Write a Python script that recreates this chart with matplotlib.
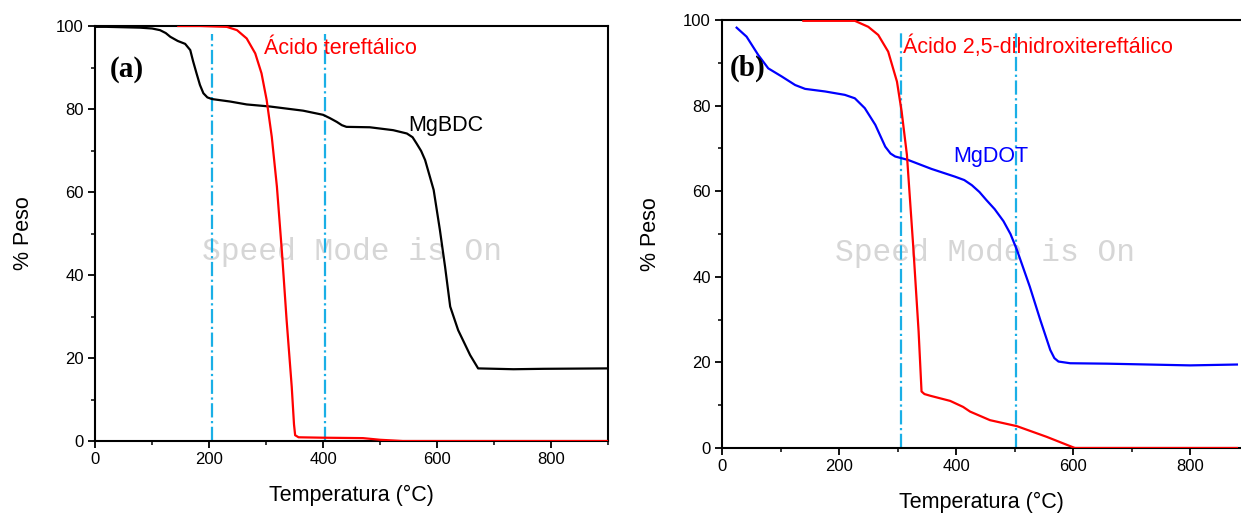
import matplotlib
matplotlib.use("Agg")
import matplotlib.pyplot as plt
from matplotlib.ticker import MultipleLocator

plt.rcParams['font.family'] = ['Liberation Sans', 'DejaVu Sans']

# (a) MgBDC
bdc_T = [0, 20, 79, 100, 114, 124, 132, 145, 158, 167, 172, 178, 184, 190, 197, 205, 237, 266,
         307, 365, 400, 412, 424, 433, 441, 482, 523, 547, 557, 564, 572, 579, 594, 605, 614,
         623, 637, 658, 672, 734, 787, 900]
bdc_w = [99.8, 99.8, 99.6, 99.4, 99.0, 98.3, 97.4, 96.4, 95.7, 94.2, 91.5, 88.6, 85.8, 83.8,
         82.8, 82.4, 81.8, 81.1, 80.6, 79.6, 78.6, 77.8, 76.9, 76.1, 75.7, 75.6, 74.9, 74.1,
         73.2, 71.7, 69.9, 67.7, 60.5, 50.8, 42.0, 32.4, 26.7, 20.7, 17.5, 17.3, 17.4, 17.5]

# (a) Acido tereftalico
tpa_T = [146, 184, 231, 249, 266, 281, 292, 301, 310, 319, 328, 336, 345, 349, 351, 357, 400,
         470, 500, 540, 900]
tpa_w = [100, 100, 99.8, 99.0, 97.0, 93.4, 88.6, 82.2, 73.3, 61.3, 45.2, 29.2, 13.1, 4.0,
         1.4, 0.9, 0.8, 0.7, 0.3, 0.0, 0.0]

# (b) MgDOT
dot_T = [25, 42, 62, 79, 102, 125, 142, 176, 210, 227, 244, 262, 279, 288, 296, 318, 358, 398,
         414, 427, 440, 452, 466, 481, 493, 504, 526, 544, 561, 568, 575, 595, 658, 800, 880]
dot_w = [98.2, 96.1, 91.8, 88.7, 86.8, 84.8, 83.9, 83.3, 82.5, 81.7, 79.4, 75.5, 70.4, 68.8,
         68.1, 67.3, 65.2, 63.4, 62.6, 61.4, 59.8, 57.9, 55.8, 53.0, 50.0, 46.3, 37.7, 29.9,
         22.9, 21.0, 20.2, 19.8, 19.7, 19.3, 19.5]

# (b) Acido 2,5-dihidroxitereftalico
dht_T = [139, 227, 250, 267, 284, 299, 307, 316, 327, 336, 341, 346, 356, 390, 412, 424, 458,
         504, 555, 603, 880]
dht_w = [99.8, 99.8, 98.4, 96.5, 92.6, 85.6, 78.6, 68.5, 46.7, 27.2, 13.2, 12.6, 12.2, 11.0,
         9.6, 8.5, 6.5, 5.1, 2.6, 0.0, 0.0]

vlines_a = [205, 403]
vlines_b = [306, 503]

cyan = '#1AAFE6'

fig = plt.figure(figsize=(12.41, 5.16), dpi=100)
ax1 = fig.add_axes([0.0766, 0.1453, 0.4134, 0.8043])
ax2 = fig.add_axes([0.5818, 0.1318, 0.4182, 0.8295])


def style(ax, xmax):
    ax.set_xlim(0, xmax)
    ax.set_ylim(0, 100)
    ax.xaxis.set_major_locator(MultipleLocator(200))
    ax.xaxis.set_minor_locator(MultipleLocator(100))
    ax.yaxis.set_major_locator(MultipleLocator(20))
    ax.yaxis.set_minor_locator(MultipleLocator(10))
    ax.tick_params(which='major', direction='out', length=5, width=1.3, labelsize=12, pad=3)
    ax.tick_params(which='minor', direction='out', length=3, width=1.1)
    for s in ax.spines.values():
        s.set_linewidth(1.5)
    ax.set_xlabel('Temperatura (°C)', fontsize=15.5, labelpad=13)
    ax.set_ylabel('% Peso', fontsize=15.5, labelpad=16)
    ax.text(450, 45.5, 'Speed Mode is On', family='Liberation Mono', fontsize=22.5,
            color='#d6d6d6', ha='center', va='center', zorder=0)


style(ax1, 900)
ax1.vlines(vlines_a, 0, 98, colors=cyan, linestyles='-.', linewidth=1.6, zorder=1)
ax1.plot(bdc_T, bdc_w, color='black', lw=1.6, zorder=3, solid_joinstyle='round')
ax1.plot(tpa_T, tpa_w, color='#ff0000', lw=1.6, zorder=3, solid_joinstyle='round')
ax1.text(296, 94.7, 'Ácido tereftálico', color='#ff0000', fontsize=15.5, va='center')
ax1.text(549, 76.1, 'MgBDC', color='black', fontsize=15.5, va='center')
ax1.text(56, 89.4, '(a)', family='Liberation Serif', fontweight='bold', fontsize=21,
         ha='center', va='center')

style(ax2, 887)
ax2.spines['right'].set_visible(False)
ax2.vlines(vlines_b, 0, 97, colors=cyan, linestyles='-.', linewidth=1.6, zorder=1)
ax2.plot(dot_T, dot_w, color='#0000ff', lw=1.6, zorder=3, solid_joinstyle='round')
ax2.plot(dht_T, dht_w, color='#ff0000', lw=1.6, zorder=3, solid_joinstyle='round')
ax2.text(309, 93.7, 'Ácido 2,5-dihidroxitereftálico', color='#ff0000', fontsize=15.5,
         va='center')
ax2.text(395, 68, 'MgDOT', color='#0000ff', fontsize=15.5, va='center')
ax2.text(44, 88.8, '(b)', family='Liberation Serif', fontweight='bold', fontsize=21,
         ha='center', va='center')

fig.savefig('out.png', dpi=100)
